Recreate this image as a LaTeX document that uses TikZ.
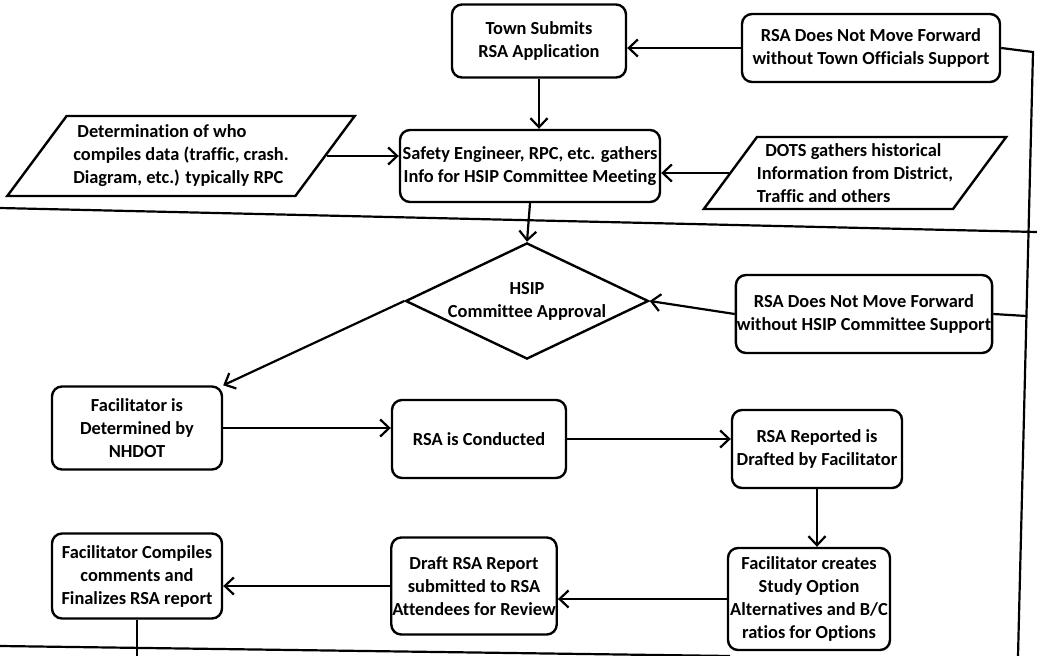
\documentclass[tikz,border=0pt]{standalone}
\usepackage{fontspec}
\setmainfont{Carlito}[Ligatures=NoCommon]
\usetikzlibrary{arrows.meta,shapes.geometric}
\begin{document}
\begin{tikzpicture}[x=1pt,y=-1pt,
  every node/.style={font=\fontsize{18.4}{23}\selectfont\bfseries},
  box/.style={draw, line width=2.4pt, rounded corners=10pt, align=center, inner sep=1pt},
  para/.style={draw, line width=2.4pt, trapezium, trapezium left angle=48, trapezium right angle=132, trapezium stretches=true, align=left, inner sep=0pt},
  dec/.style={draw, diamond, line width=2.4pt, align=center, inner sep=-20pt},
  conn/.style={line width=2.2pt},
  arr/.style={conn, -{Straight Barb[length=9pt,width=17pt]}},
]
\fill[white] (0,0) rectangle (1037,656);
\useasboundingbox (0,0) rectangle (1037,656);

\node[box, minimum width=174pt, minimum height=73pt] (town) at (539,41) {Town Submits\\RSA Application};
\node[box, minimum width=258pt, minimum height=68pt] (tosup) at (871,48) {RSA Does Not Move Forward\\without Town Officials Support};
\node[box, minimum width=260pt, minimum height=72pt] (safety) at (530,166) {Safety Engineer, RPC, etc. gathers\\Info for HSIP Committee Meeting};
\node[para, minimum width=348pt, minimum height=80pt] (det) at (181,156) {\ Determination of who\\compiles data (traffic, crash.\\Diagram, etc.) typically RPC};
\node[para, minimum width=298pt, minimum height=72pt] (dots) at (855,173) {\ \ DOTS gathers historical\\Information from District,\\Traffic and others};
\node[dec, minimum width=243pt, minimum height=108pt] (hsip) at (527,301) {HSIP\\Committee Approval};
\node[box, minimum width=256pt, minimum height=78pt] (hsipsup) at (864,314) {RSA Does Not Move Forward\\without HSIP Committee Support};
\node[box, minimum width=170pt, minimum height=83pt] (facdet) at (137,428) {Facilitator is\\Determined by\\NHDOT};
\node[box, minimum width=174pt, minimum height=78pt] (cond) at (479,439) {RSA is Conducted};
\node[box, minimum width=170pt, minimum height=78pt] (drafted) at (817,449) {RSA Reported is\\Drafted by Facilitator};
\node[box, minimum width=162pt, minimum height=102pt] (creates) at (809,599) {Facilitator creates\\Study Option\\Alternatives and B/C\\ratios for Options};
\node[box, minimum width=164pt, minimum height=97pt] (draft) at (474,586) {Draft RSA Report\\submitted to RSA\\Attendees for Review};
\node[box, minimum width=170pt, minimum height=85pt] (comp) at (137,576) {Facilitator Compiles\\comments and\\Finalizes RSA report};

\coordinate (vt) at (1033,52);
\coordinate (vb) at (1018,656);
\coordinate (vm) at (1026.5,316);
\coordinate (h1a) at (0,208);
\coordinate (h1b) at (1037,232);
\coordinate (h2a) at (0,646);
\coordinate (h2b) at (730,656);

\draw[conn] (tosup.east) -- (vt) -- (vb);
\draw[conn] (hsipsup.east) -- (vm);
\draw[conn] (h1a) -- (h1b);
\draw[conn] (h2a) -- (h2b);

\draw[arr] (tosup.west) -- (tosup.west -| town.east);
\draw[arr] (town.south) -- (town.south |- safety.north);
\draw[arr] (det.east) -- (det.east -| safety.west);
\draw[arr] (dots.west) -- (dots.west -| safety.east);
\draw[arr] (safety.south) -- (hsip.north);
\draw[arr] (hsipsup.west) -- (hsip.east);
\draw[arr] (hsip.west) -- (facdet.north east);
\draw[arr] (facdet.east) -- (facdet.east -| cond.west);
\draw[arr] (cond.east) -- (cond.east -| drafted.west);
\draw[arr] (drafted.south) -- (drafted.south |- creates.north);
\draw[arr] (creates.west) -- (creates.west -| draft.east);
\draw[arr] (draft.west) -- (draft.west -| comp.east);
\draw[conn] (comp.south) -- (comp.south |- vb);
\end{tikzpicture}
\end{document}
